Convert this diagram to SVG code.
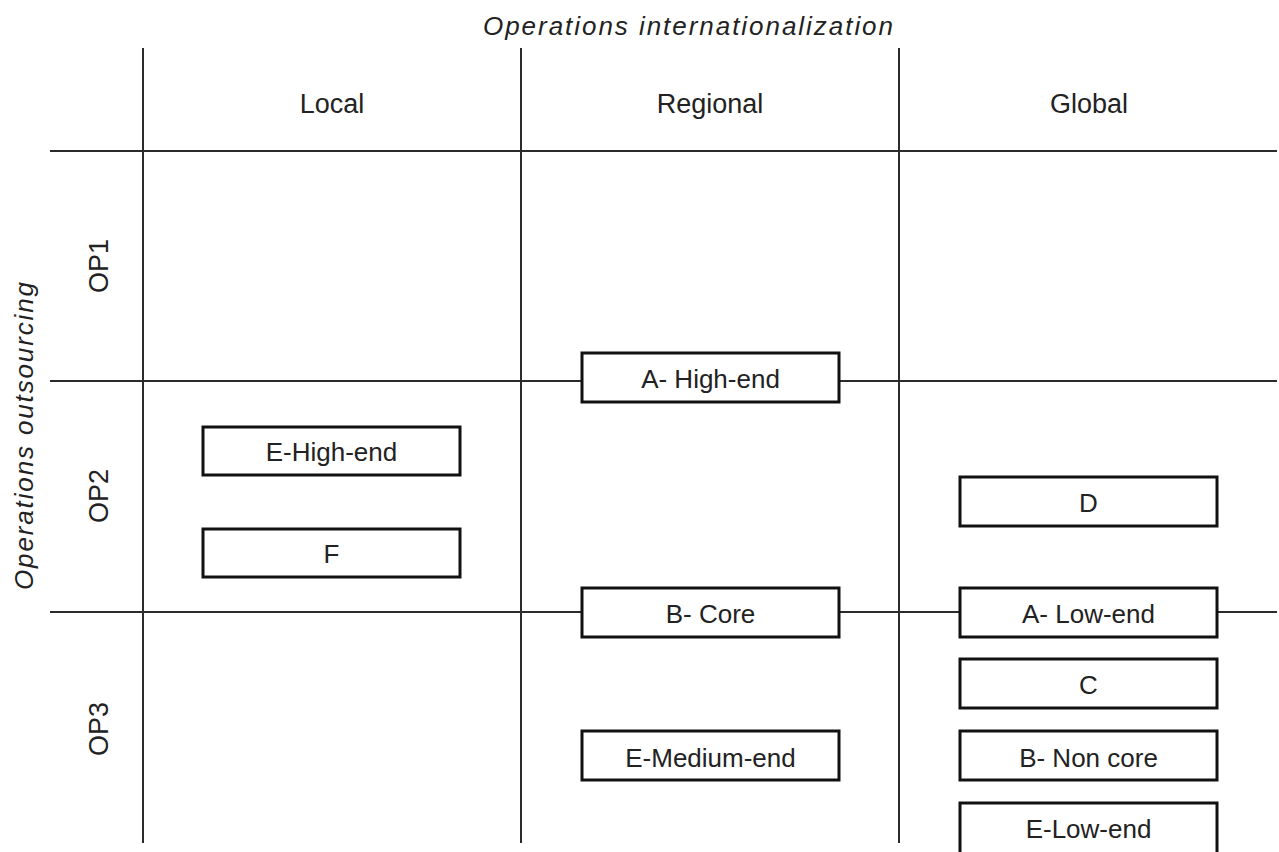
<svg xmlns="http://www.w3.org/2000/svg" width="1279" height="852" viewBox="0 0 1279 852">
  <style>
    .grid { stroke: #2b2b2b; stroke-width: 2; fill: none; }
    .box rect { fill: #ffffff; stroke: #111111; stroke-width: 3; }
    text { font-family: "Liberation Sans", Arial, sans-serif; fill: #222222; }
    .head { font-size: 27px; text-anchor: middle; }
    .lbl { font-size: 26px; text-anchor: middle; }
    .axis { font-size: 26px; font-style: italic; text-anchor: middle; }
  </style>
  <rect width="1279" height="852" fill="#ffffff"/>

  <!-- grid lines -->
  <g id="connectors">
    <line class="grid" x1="143" y1="48" x2="143" y2="843"/>
    <line class="grid" x1="521" y1="48" x2="521" y2="843"/>
    <line class="grid" x1="899" y1="48" x2="899" y2="843"/>
    <line class="grid" x1="50" y1="151" x2="1277" y2="151"/>
    <line class="grid" x1="50" y1="381" x2="1277" y2="381"/>
    <line class="grid" x1="50" y1="612" x2="1277" y2="612"/>
  </g>

  <!-- axis titles -->
  <g id="axis-x">
    <text class="axis" x="688" y="35" textLength="410" lengthAdjust="spacing">Operations internationalization</text>
  </g>
  <g id="axis-y">
    <text class="axis" transform="translate(33,436) rotate(-90)" x="0" y="0" textLength="308" lengthAdjust="spacing">Operations outsourcing</text>
  </g>

  <!-- column headers -->
  <g id="col-local"><text class="head" x="332" y="113">Local</text></g>
  <g id="col-regional"><text class="head" x="710" y="113">Regional</text></g>
  <g id="col-global"><text class="head" x="1089" y="113">Global</text></g>

  <!-- row headers -->
  <g id="row-op1"><text class="head" transform="translate(108,266) rotate(-90)" x="0" y="0">OP1</text></g>
  <g id="row-op2"><text class="head" transform="translate(108,496) rotate(-90)" x="0" y="0">OP2</text></g>
  <g id="row-op3"><text class="head" transform="translate(108,729) rotate(-90)" x="0" y="0">OP3</text></g>

  <!-- boxes -->
  <g id="a-high-end" class="box">
    <rect x="582" y="353" width="257" height="49"/>
    <text class="lbl" x="710.5" y="388">A- High-end</text>
  </g>
  <g id="e-high-end" class="box">
    <rect x="203" y="427" width="257" height="48"/>
    <text class="lbl" x="331.5" y="461">E-High-end</text>
  </g>
  <g id="f" class="box">
    <rect x="203" y="529" width="257" height="48"/>
    <text class="lbl" x="331.5" y="563">F</text>
  </g>
  <g id="d" class="box">
    <rect x="960" y="477" width="257" height="49"/>
    <text class="lbl" x="1088.5" y="512">D</text>
  </g>
  <g id="b-core" class="box">
    <rect x="582" y="588" width="257" height="49"/>
    <text class="lbl" x="710.5" y="623">B- Core</text>
  </g>
  <g id="a-low-end" class="box">
    <rect x="960" y="588" width="257" height="49"/>
    <text class="lbl" x="1088.5" y="623">A- Low-end</text>
  </g>
  <g id="c" class="box">
    <rect x="960" y="659" width="257" height="49"/>
    <text class="lbl" x="1088.5" y="694">C</text>
  </g>
  <g id="e-medium-end" class="box">
    <rect x="582" y="731" width="257" height="49"/>
    <text class="lbl" x="710.5" y="767">E-Medium-end</text>
  </g>
  <g id="b-non-core" class="box">
    <rect x="960" y="731" width="257" height="49"/>
    <text class="lbl" x="1088.5" y="767">B- Non core</text>
  </g>
  <g id="e-low-end" class="box">
    <rect x="960" y="803" width="257" height="52"/>
    <text class="lbl" x="1088.5" y="838">E-Low-end</text>
  </g>
</svg>
